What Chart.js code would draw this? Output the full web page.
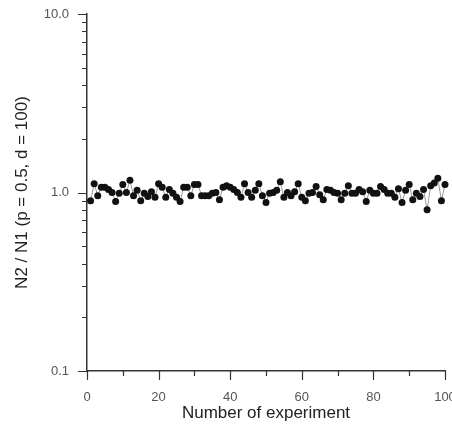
<!DOCTYPE html>
<html>
<head>
<meta charset="utf-8">
<script src="https://cdn.jsdelivr.net/npm/chart.js@4"></script>
<style>
  html, body { margin: 0; padding: 0; background: #fff; overflow: hidden; }
  canvas { display: block; }
</style>
</head>
<body>
<canvas id="ratioChart" width="452" height="426"></canvas>
<script>
// N2/N1 ratio for each experiment
const ratios = [
  0.90, 1.12, 0.96, 1.07, 1.07, 1.04, 1.00, 0.89, 0.99, 1.11,
  1.00, 1.17, 0.96, 1.03, 0.90, 0.99, 0.95, 1.01, 0.94, 1.12,
  1.07, 0.94, 1.04, 0.99, 0.94, 0.89, 1.07, 1.07, 0.96, 1.11,
  1.11, 0.96, 0.96, 0.96, 0.99, 1.00, 0.91, 1.07, 1.09, 1.07,
  1.04, 1.00, 0.94, 1.12, 1.00, 0.94, 1.03, 1.12, 0.96, 0.88,
  0.99, 1.00, 1.03, 1.15, 0.94, 1.00, 0.96, 1.01, 1.12, 0.94,
  0.90, 0.99, 1.00, 1.08, 0.97, 0.91, 1.04, 1.03, 1.00, 0.99,
  0.91, 0.99, 1.09, 0.99, 0.99, 1.04, 1.01, 0.89, 1.03, 0.99,
  0.99, 1.08, 1.04, 0.99, 0.99, 0.94, 1.05, 0.88, 1.03, 1.11,
  0.91, 0.99, 0.95, 1.04, 0.80, 1.09, 1.13, 1.20, 0.90, 1.11
];
const experiments = ratios.map((_, i) => i + 1);

const xTicks = [0, 10, 20, 30, 40, 50, 60, 70, 80, 90, 100];
const xLabelled = [0, 20, 40, 60, 80, 100];
const yTicks = [0.1, 0.2, 0.3, 0.4, 0.5, 0.6, 0.7, 0.8, 0.9,
                1, 2, 3, 4, 5, 6, 7, 8, 9, 10];
const yLabelled = [0.1, 1, 10];

const axisColor = '#333';

// draws outward tick marks, long for labelled ticks, short for the rest
const tickMarks = {
  id: 'tickMarks',
  afterDraw(chart) {
    const ctx = chart.ctx;
    const xs = chart.scales.x, ys = chart.scales.y;
    ctx.save();
    ctx.strokeStyle = axisColor;
    ctx.lineWidth = 1.2;
    ctx.beginPath();
    xTicks.forEach(v => {
      const px = Math.round(xs.getPixelForValue(v)) + 0.5;
      const len = xLabelled.includes(v) ? 9 : 5;
      ctx.moveTo(px, xs.top);
      ctx.lineTo(px, xs.top + len);
    });
    yTicks.forEach(v => {
      const py = Math.round(ys.getPixelForValue(v)) + 0.5;
      const len = yLabelled.includes(v) ? 9 : 5;
      ctx.moveTo(ys.right, py);
      ctx.lineTo(ys.right - len, py);
    });
    ctx.stroke();
    ctx.restore();
  }
};

const ctx = document.getElementById('ratioChart').getContext('2d');
new Chart(ctx, {
  type: 'line',
  data: {
    datasets: [{
      data: experiments.map((x, i) => ({ x: x, y: ratios[i] })),
      borderColor: '#999',
      borderWidth: 1,
      pointBackgroundColor: '#111',
      pointBorderColor: '#111',
      pointRadius: 3.5,
      pointBorderWidth: 0,
      tension: 0,
      clip: false
    }]
  },
  options: {
    responsive: false,
    animation: false,
    layout: { padding: { top: 14, right: 7, bottom: 0, left: 0 } },
    plugins: {
      legend: { display: false },
      tooltip: { enabled: false }
    },
    scales: {
      x: {
        type: 'linear',
        min: 0,
        max: 100,
        afterBuildTicks: s => { s.ticks = xTicks.map(v => ({ value: v })); },
        afterFit: s => { s.height = 55; s.paddingLeft = 0; s.paddingRight = 0; },
        grid: { drawOnChartArea: false, drawTicks: false },
        border: { color: axisColor, width: 1.5 },
        ticks: {
          padding: 19,
          maxRotation: 0,
          autoSkip: false,
          color: '#555',
          font: { family: 'Liberation Sans, Arial', size: 13 },
          callback: v => xLabelled.includes(v) ? String(v) : ''
        },
        title: {
          display: true,
          text: 'Number of experiment',
          color: '#222',
          font: { family: 'Liberation Sans, Arial', size: 17 },
          padding: { top: 0, bottom: 2 }
        }
      },
      y: {
        type: 'logarithmic',
        min: 0.1,
        max: 10,
        afterBuildTicks: s => { s.ticks = yTicks.map(v => ({ value: v })); },
        afterFit: s => { s.width = 87; s.paddingTop = 0; s.paddingBottom = 0; },
        grid: { drawOnChartArea: false, drawTicks: false },
        border: { color: axisColor, width: 1.5 },
        ticks: {
          padding: 18,
          autoSkip: false,
          color: '#555',
          font: { family: 'Liberation Sans, Arial', size: 13 },
          callback: v => yLabelled.includes(v) ? v.toFixed(1) : ''
        },
        title: {
          display: true,
          text: 'N2 / N1 (p = 0.5, d = 100)',
          color: '#222',
          font: { family: 'Liberation Sans, Arial', size: 17 },
          padding: { top: 12, bottom: 0 }
        }
      }
    }
  },
  plugins: [tickMarks]
});
</script>
</body>
</html>
